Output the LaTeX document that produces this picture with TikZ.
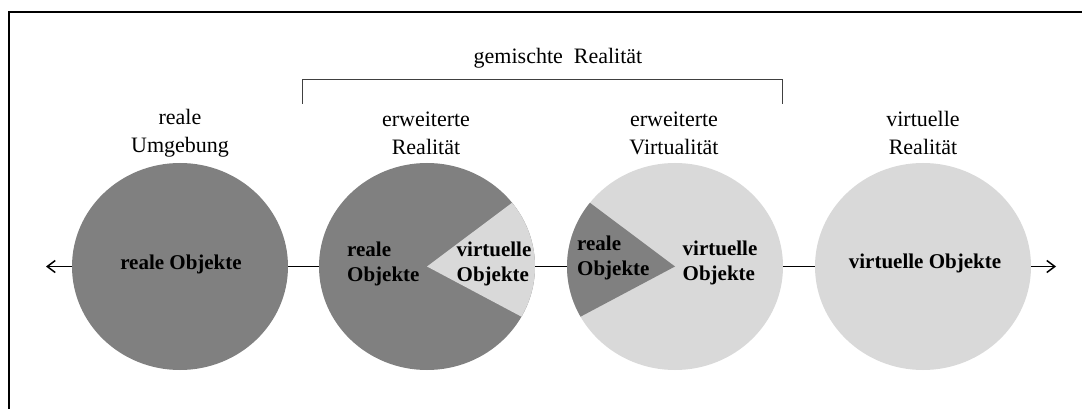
\documentclass[tikz,border=0pt]{standalone}
\usepackage{fontspec}
\setmainfont{Liberation Serif}
\usetikzlibrary{shapes.geometric,arrows.meta,calc}
\definecolor{darkg}{HTML}{808080}
\definecolor{lightg}{HTML}{D9D9D9}
\definecolor{brk}{HTML}{404040}
\tikzset{
  disc/.style={ellipse, inner sep=0pt, minimum width=216pt, minimum height=207pt, draw=none},
  toplabel/.style={align=center, inner sep=0pt, font=\fontsize{22}{28}\selectfont, text=black},
  inlabel/.style={inner sep=0pt, font=\fontsize{21}{25}\selectfont\bfseries, text=black},
  conn/.style={line width=1.5pt, black},
  arr/.style={conn, -{Straight Barb[length=8pt,width=12pt,line width=1.5pt]}},
}
\begin{document}
\begin{tikzpicture}[x=1pt,y=1pt]
\useasboundingbox (0,0) rectangle (1082,-409);
\fill[white] (0,0) rectangle (1082,-409);
% frame
\draw[line width=2.5pt] (1082,-12) -- (9,-12) -- (9,-409);
% discs
\node[disc, fill=darkg] (c1) at (180,-266.5) {};
\node[disc, fill=darkg] (c2) at (427,-266.5) {};
\node[disc, fill=lightg] (c3) at (675,-266.5) {};
\node[disc, fill=lightg] (c4) at (923,-266.5) {};
% wedges
\fill[lightg] (c2.center) -- ($(c2.center)+(38:108pt and 103.5pt)$) arc[start angle=38, end angle=-29, x radius=108pt, y radius=103.5pt] -- cycle;
\fill[darkg] (c3.center) -- ($(c3.center)+(142:108pt and 103.5pt)$) arc[start angle=142, end angle=209, x radius=108pt, y radius=103.5pt] -- cycle;
% connectors
\coordinate (la) at (46,-266.5);
\coordinate (ra) at (1056,-266.5);
\draw[arr] (c1.west) -- (la);
\draw[conn] (c1.east) -- (c2.west);
\draw[conn] (c2.east) -- (c3.west);
\draw[conn] (c3.east) -- (c4.west);
\draw[arr] (c4.east) -- (ra);
% inner labels
\node[inlabel] (t1) at (181,-264) {reale Objekte};
\node[inlabel, align=left, anchor=west] (t2a) at (347,-263.5) {reale\\Objekte};
\node[inlabel, align=left, anchor=west] (t2b) at (456.5,-263.5) {virtuelle\\Objekte};
\node[inlabel, align=left, anchor=west] (t3a) at (577,-257.5) {reale\\Objekte};
\node[inlabel, align=left, anchor=west] (t3b) at (682.5,-262.5) {virtuelle\\Objekte};
\node[inlabel] (t4) at (925,-263) {virtuelle Objekte};
% top labels
\node[toplabel] (l1) at (180,-133) {reale\\Umgebung};
\node[toplabel] (l2) at (426,-133) {erweiterte\\Realität};
\node[toplabel] (l3) at (674,-133) {erweiterte\\Virtualität};
\node[toplabel] (l4) at (923,-133) {virtuelle\\Realität};
% bracket
\coordinate (b1) at (302.5,-104);
\coordinate (b2) at (302.5,-79.5);
\coordinate (b3) at (782,-79.5);
\coordinate (b4) at (782,-104);
\draw[brk, line width=1pt] (b1) -- (b2) -- (b3) -- (b4);
\node[toplabel] (g) at (558,-58.5) {gemischte\ \ Realität};
\end{tikzpicture}
\end{document}
